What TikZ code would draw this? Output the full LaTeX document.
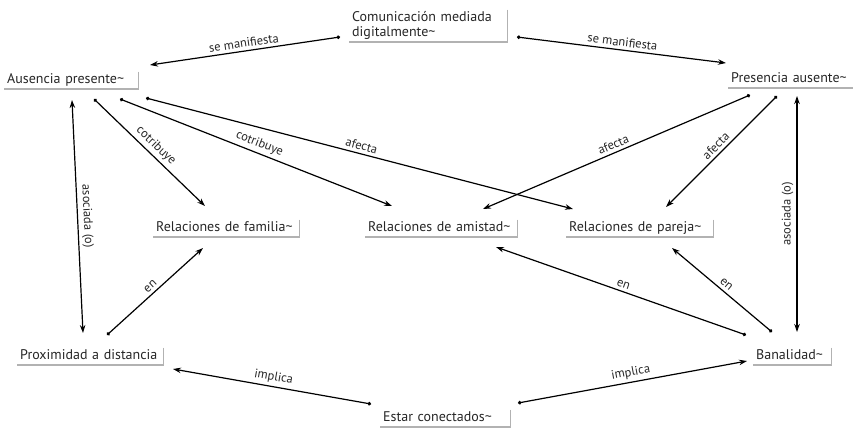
\documentclass[tikz,border=0pt]{standalone}
\usepackage{fontspec}
\setmainfont{PT Sans}
\usetikzlibrary{calc,arrows.meta}
\def\cmapbox(#1){\draw[line width=1.2pt, color=black!30] (#1.north east) -- (#1.south east) -- (#1.south west);}

\begin{document}
\begin{tikzpicture}[x=1pt, y=-1pt,
	cmap/.style={anchor=south west, inner xsep=3pt, inner ysep=2pt, align=left, font=\fontsize{14}{15}\selectfont, text=black!85},
	cmapone/.style={cmap, text height=10pt, text depth=3pt},
	link/.style={line width=1.2pt, {Circle[length=3.5pt]}-{Stealth[length=8pt, width=5.5pt]}},
	both/.style={line width=1.2pt, {Stealth[length=8pt, width=5.5pt]}-{Stealth[length=8pt, width=5.5pt]}},
	lbl/.style={midway, sloped, above, inner sep=3pt, font=\fontsize{12.5}{14}\selectfont, text=black!85}]
			%%%%% START %%%%%
			
			\useasboundingbox (0, 0) rectangle (853, 429);
			
			\node[cmap, text width=152pt] (com) at (349, 42) {Comunicación mediada\\digitalmente\textasciitilde};
			\cmapbox(com);
			
			\node[cmapone, text width=128pt] (aus) at (4, 89) {Ausencia presente\textasciitilde};
			\cmapbox(aus);
			
			\node[cmapone, text width=122pt] (pres) at (728, 88) {Presencia ausente\textasciitilde};
			\cmapbox(pres);
			
			\node[cmapone, text width=140pt] (fam) at (153, 237) {Relaciones de familia\textasciitilde};
			\cmapbox(fam);
			
			\node[cmapone, text width=146pt] (ami) at (365, 237) {Relaciones de amistad\textasciitilde};
			\cmapbox(ami);
			
			\node[cmapone, text width=141pt] (par) at (566, 237) {Relaciones de pareja\textasciitilde};
			\cmapbox(par);
			
			\node[cmapone, text width=140pt] (prox) at (17, 365) {Proximidad a distancia};
			\cmapbox(prox);
			
			\node[cmapone, text width=72pt] (ban) at (753, 365) {Banalidad\textasciitilde};
			\cmapbox(ban);
			
			\node[cmapone, text width=124pt] (est) at (380, 427) {Estar conectados\textasciitilde};
			\cmapbox(est);
			
			\draw[link] ($(com.south west)+(-9,-5)$) -- ($(aus.south west)+(146,-24)$) node[lbl] {se manifiesta};
			\draw[link] ($(com.south west)+(168,-5)$) -- ($(pres.south west)+(-2,-25)$) node[lbl] {se manifiesta};
			
			\draw[link] ($(aus.south west)+(90,10)$) -- ($(fam.south west)+(52,-31)$) node[lbl] {cotribuye};
			\draw[link] ($(aus.south west)+(116,10)$) -- ($(ami.south west)+(27,-31)$) node[lbl] {cotribuye};
			\draw[link] ($(aus.south west)+(142,9)$) -- ($(par.south west)+(7,-28)$) node[lbl] {afecta};
			
			\draw[link] ($(pres.south west)+(22,7)$) -- ($(ami.south west)+(118,-28)$) node[lbl] {afecta};
			\draw[link] ($(pres.south west)+(49,8)$) -- ($(par.south west)+(100,-30)$) node[lbl] {afecta};
			
			\draw[both] ($(aus.south west)+(68,11)$) -- ($(prox.south west)+(66,-32)$) node[lbl] {asociada (o)};
			\draw[both] ($(ban.south west)+(44,-33)$) -- ($(pres.south west)+(69,8)$) node[midway, rotate=90, above, inner sep=3pt, font=\fontsize{12.5}{14}\selectfont, text=black!85] {asociada (o)};
			
			\draw[link] ($(prox.south west)+(90,-30)$) -- ($(fam.south west)+(50,11)$) node[lbl] {en};
			\draw[link] ($(ban.south west)+(-7,-30)$) -- ($(ami.south west)+(131,10)$) node[lbl] {en};
			\draw[link] ($(ban.south west)+(19,-33)$) -- ($(par.south west)+(106,11)$) node[lbl] {en};
			
			\draw[link] ($(est.south west)+(-9,-23)$) -- ($(prox.south west)+(156,4)$) node[lbl] {implica};
			\draw[link] ($(est.south west)+(138,-24)$) -- ($(ban.south west)+(-6,-4)$) node[lbl] {implica};
			
			%%%%% END %%%%%
\end{tikzpicture}
\end{document}
